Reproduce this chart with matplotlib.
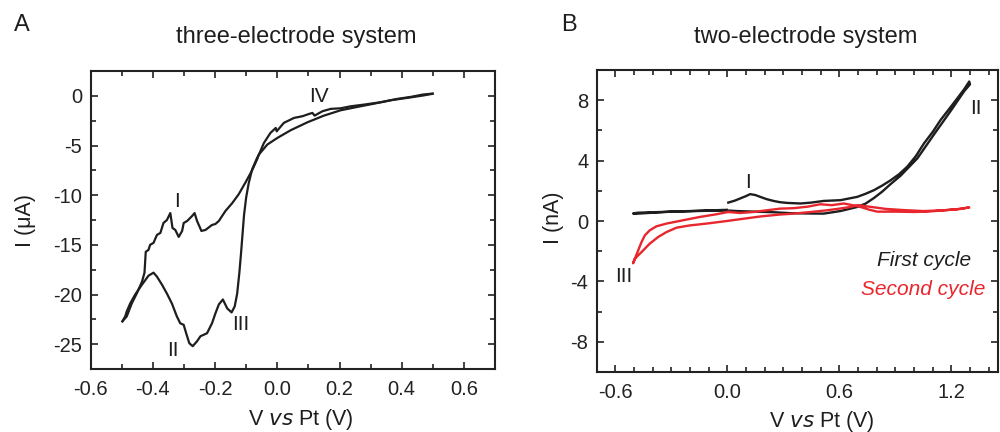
"""Cyclic voltammograms: three-electrode vs two-electrode system."""
import matplotlib
matplotlib.use("Agg")
import matplotlib.pyplot as plt
from matplotlib.ticker import MultipleLocator

plt.rcParams["font.family"] = ["Liberation Sans", "DejaVu Sans"]

# ---- panel A: three-electrode system (V vs Pt, current in uA) ----
a_fwd_v = [-0.498, -0.484, -0.468, -0.452, -0.435, -0.427, -0.423, -0.414, -0.409, -0.398,
           -0.387, -0.376, -0.366, -0.355, -0.344, -0.337, -0.328, -0.317, -0.306, -0.301,
           -0.290, -0.274, -0.266, -0.258, -0.244, -0.231, -0.210, -0.199, -0.188, -0.167,
           -0.145, -0.124, -0.102, -0.081, -0.065, -0.059, -0.032, 0.0, 0.043, 0.097,
           0.150, 0.204, 0.258, 0.312, 0.365, 0.419, 0.468, 0.498]
a_fwd_i = [-22.7, -22.2, -20.9, -19.9, -18.7, -17.8, -15.7, -15.5, -15.0, -14.8,
           -14.0, -13.8, -12.8, -12.5, -11.8, -13.3, -13.5, -14.2, -13.6, -12.8,
           -12.6, -12.1, -11.8, -12.6, -13.6, -13.5, -13.0, -12.9, -12.6, -11.6,
           -10.8, -9.9, -8.7, -7.5, -6.4, -5.9, -4.9, -4.24, -3.46, -2.66,
           -1.99, -1.45, -1.11, -0.78, -0.44, -0.20, 0.03, 0.20]
a_rev_v = [0.500, 0.468, 0.430, 0.387, 0.333, 0.279, 0.236, 0.204, 0.172, 0.145,
           0.120, 0.113, 0.102, 0.081, 0.054, 0.021, -0.002, -0.005, -0.022, -0.043,
           -0.059, -0.065, -0.081, -0.092, -0.100, -0.107, -0.112, -0.117, -0.122, -0.129,
           -0.137, -0.147, -0.161, -0.175, -0.188, -0.199, -0.210, -0.226, -0.247, -0.258,
           -0.272, -0.283, -0.293, -0.301, -0.312, -0.323, -0.339, -0.355, -0.371, -0.387,
           -0.398, -0.414, -0.435, -0.457, -0.473, -0.484, -0.489, -0.498]
a_rev_i = [0.23, 0.13, -0.10, -0.30, -0.64, -0.88, -1.05, -1.25, -1.31, -1.55,
           -1.99, -1.72, -1.82, -2.05, -2.22, -2.72, -3.57, -3.23, -3.73, -4.74,
           -5.90, -6.25, -7.40, -8.80, -10.2, -12.0, -14.0, -16.0, -17.8, -19.9,
           -21.2, -21.8, -21.4, -20.5, -21.0, -21.9, -22.9, -23.9, -24.2, -24.7,
           -25.2, -24.9, -23.9, -23.05, -22.9, -22.2, -20.9, -19.9, -19.0, -18.2,
           -17.8, -18.1, -19.0, -20.0, -20.9, -21.7, -22.2, -22.7]
a_labels = ["I", "II", "III", "IV"]
a_label_v = [-0.323, -0.335, -0.118, 0.134]
a_label_i = [-10.6, -25.6, -23.05, -0.04]

# ---- panel B: two-electrode system (current in nA) ----
b1_v = [0.005, 0.040, 0.068, 0.100, 0.122, 0.150, 0.176, 0.210, 0.247, 0.280,
        0.319, 0.391, 0.450, 0.516, 0.606, 0.696, 0.740, 0.785, 0.830, 0.875,
        0.920, 0.964, 1.010, 1.054, 1.100, 1.143, 1.190, 1.233, 1.270, 1.296,
        1.300, 1.269, 1.197, 1.108, 1.018, 0.928, 0.875, 0.830, 0.785, 0.740,
        0.696, 0.606, 0.516, 0.420, 0.337, 0.250, 0.150, 0.050, -0.003, -0.100,
        -0.200, -0.300, -0.400, -0.480, -0.505, -0.490, -0.400, -0.300, -0.200, -0.100,
        -0.003]
b1_i = [1.22, 1.35, 1.49, 1.65, 1.78, 1.72, 1.60, 1.45, 1.33, 1.25,
        1.20, 1.16, 1.22, 1.33, 1.38, 1.60, 1.80, 2.04, 2.35, 2.70,
        3.10, 3.60, 4.30, 5.15, 5.90, 6.70, 7.45, 8.14, 8.75, 9.24,
        9.05, 8.60, 7.30, 5.75, 4.15, 3.00, 2.45, 1.95, 1.52, 1.15,
        0.93, 0.66, 0.49, 0.50, 0.52, 0.58, 0.62, 0.66, 0.70, 0.68,
        0.65, 0.62, 0.58, 0.55, 0.50, 0.48, 0.55, 0.62, 0.66, 0.70,
        0.74]
b2_v = [0.005, 0.068, 0.140, 0.212, 0.283, 0.355, 0.430, 0.498, 0.560, 0.624,
        0.670, 0.713, 0.760, 0.803, 0.900, 1.000, 1.072, 1.150, 1.230, 1.296,
        1.250, 1.150, 1.050, 0.950, 0.850, 0.760, 0.700, 0.660, 0.600, 0.534,
        0.450, 0.355, 0.283, 0.176, 0.068, -0.003, -0.111, -0.200, -0.272, -0.326,
        -0.371, -0.416, -0.460, -0.496, -0.505, -0.478, -0.460, -0.442, -0.416, -0.380,
        -0.326, -0.237, -0.147, -0.057, 0.005]
b2_i = [0.60, 0.53, 0.60, 0.71, 0.82, 0.85, 0.95, 1.11, 1.05, 1.16,
        1.05, 0.93, 0.75, 0.62, 0.62, 0.60, 0.62, 0.70, 0.78, 0.90,
        0.80, 0.70, 0.66, 0.72, 0.80, 0.95, 1.05, 0.93, 0.82, 0.71,
        0.60, 0.49, 0.43, 0.30, 0.12, 0.00, -0.17, -0.29, -0.44, -0.73,
        -1.06, -1.50, -2.06, -2.50, -2.80, -1.95, -1.40, -0.95, -0.62, -0.35,
        -0.17, 0.05, 0.27, 0.45, 0.60]
b_labels = ["I", "II", "III"]
b_label_v = [0.113, 1.332, -0.555]
b_label_i = [2.53, 7.47, -3.68]

BLACK = "#1e1e1e"
RED = "#e8262d"
TICK_FS = 14.5
LABEL_FS = 15.5

fig = plt.figure(figsize=(10, 4.32), dpi=100)
ax_a = fig.add_axes([0.0907, 0.1458, 0.4043, 0.6898])
ax_b = fig.add_axes([0.5967, 0.1389, 0.4013, 0.6990])


def style_axes(ax):
    for sp in ax.spines.values():
        sp.set_linewidth(1.5)
        sp.set_color("#222222")
    ax.tick_params(which="both", direction="in", top=True, right=True,
                   width=1.2, colors="#222222", labelsize=TICK_FS, pad=6)
    ax.tick_params(which="major", length=5)
    ax.tick_params(which="minor", length=3.5)
    ax.tick_params(axis="x", pad=8)


# panel A
ax_a.plot(a_fwd_v, a_fwd_i, color=BLACK, lw=1.6)
ax_a.plot(a_rev_v, a_rev_i, color=BLACK, lw=1.6)
for txt, v, i in zip(a_labels, a_label_v, a_label_i):
    ax_a.text(v, i, txt, ha="center", va="center", fontsize=15, color=BLACK)
ax_a.set_xlim(-0.6, 0.7)
ax_a.set_ylim(-27.5, 2.5)
ax_a.xaxis.set_major_locator(MultipleLocator(0.2))
ax_a.xaxis.set_minor_locator(MultipleLocator(0.1))
ax_a.yaxis.set_major_locator(MultipleLocator(5))
ax_a.yaxis.set_minor_locator(MultipleLocator(2.5))
ax_a.set_xticks([-0.6, -0.4, -0.2, 0.0, 0.2, 0.4, 0.6])
ax_a.set_xticklabels(["-0.6", "-0.4", "-0.2", "0.0", "0.2", "0.4", "0.6"])
ax_a.set_yticks([0, -5, -10, -15, -20, -25])
ax_a.set_yticklabels(["0", "-5", "-10", "-15", "-20", "-25"])
style_axes(ax_a)

# panel B
ax_b.plot(b1_v, b1_i, color=BLACK, lw=1.7)
ax_b.plot(b2_v, b2_i, color=RED, lw=1.7)
for txt, v, i in zip(b_labels, b_label_v, b_label_i):
    ax_b.text(v, i, txt, ha="center", va="center", fontsize=15, color=BLACK)
ax_b.text(1.305, -2.61, "First cycle", ha="right", va="center", fontsize=15,
          style="italic", color=BLACK)
ax_b.text(1.385, -4.56, "Second cycle", ha="right", va="center", fontsize=15,
          style="italic", color=RED)
ax_b.set_xlim(-0.7, 1.45)
ax_b.set_ylim(-10, 10)
ax_b.xaxis.set_minor_locator(MultipleLocator(0.1))
ax_b.yaxis.set_minor_locator(MultipleLocator(2))
ax_b.set_xticks([-0.6, 0.0, 0.6, 1.2])
ax_b.set_xticklabels(["-0.6", "0.0", "0.6", "1.2"])
ax_b.set_yticks([8, 4, 0, -4, -8])
ax_b.set_yticklabels(["8", "4", "0", "-4", "-8"])
style_axes(ax_b)

# axis labels and panel titles placed in figure pixels
W, H = 1000, 432
fig.text(25 / W, 1 - 220 / H, "I (\u03bcA)", rotation=90, ha="center", va="center",
         fontsize=LABEL_FS, color=BLACK)
fig.text(553 / W, 1 - 218 / H, "I (nA)", rotation=90, ha="center", va="center",
         fontsize=LABEL_FS, color=BLACK)
fig.text(301 / W, 1 - 419 / H, "V $\\mathit{vs}$ Pt (V)", ha="center", va="center",
         fontsize=LABEL_FS, color=BLACK)
fig.text(822 / W, 1 - 421 / H, "V $\\mathit{vs}$ Pt (V)", ha="center", va="center",
         fontsize=LABEL_FS, color=BLACK)
fig.text(296 / W, 1 - 37 / H, "three-electrode system", ha="center", va="center",
         fontsize=17, color=BLACK)
fig.text(806 / W, 1 - 37 / H, "two-electrode system", ha="center", va="center",
         fontsize=17, color=BLACK)
fig.text(22 / W, 1 - 25 / H, "A", ha="center", va="center", fontsize=17, color=BLACK)
fig.text(569 / W, 1 - 25 / H, "B", ha="center", va="center", fontsize=17, color=BLACK)

fig.savefig("out.png", dpi=100)
